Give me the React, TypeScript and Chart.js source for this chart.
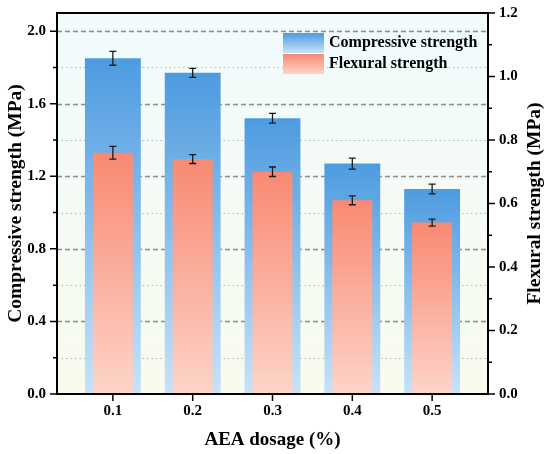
import { useEffect, useRef } from "react"
import Chart from "chart.js/auto"

const dosages = [0.1, 0.2, 0.3, 0.4, 0.5]
const compressive = [1.85, 1.77, 1.52, 1.27, 1.13]
const compressiveErr = [0.038, 0.025, 0.027, 0.03, 0.027]
const flexural = [0.76, 0.74, 0.7, 0.61, 0.54]
const flexuralErr = [0.02, 0.014, 0.015, 0.014, 0.011]

const leftTicks = [0, 0.2, 0.4, 0.6, 0.8, 1.0, 1.2, 1.4, 1.6, 1.8, 2.0]
const leftMajor = [0, 0.4, 0.8, 1.2, 1.6, 2.0]
const rightTicks = [0, 0.1, 0.2, 0.3, 0.4, 0.5, 0.6, 0.7, 0.8, 0.9, 1.0, 1.1, 1.2]
const rightMajor = [0, 0.2, 0.4, 0.6, 0.8, 1.0, 1.2]

const FONT = "'Liberation Serif', 'Times New Roman', serif"
const isIn = (list: number[], v: number) => list.some((m) => Math.abs(m - v) < 1e-6)

const blueTop = "#4d9be0"
const blueBottom = "#c8e3f7"
const redTop = "#f98972"
const redBottom = "#fdd4c9"

function barGradient(ctx: any, values: number[], axis: string, top: string, bottom: string) {
  const chart = ctx.chart
  const scale = chart.scales[axis]
  if (!chart.chartArea || !scale || ctx.type !== "data") return top
  const y0 = scale.getPixelForValue(values[ctx.dataIndex])
  const y1 = scale.getPixelForValue(0)
  const g = chart.ctx.createLinearGradient(0, y0, 0, y1)
  g.addColorStop(0, top)
  g.addColorStop(1, bottom)
  return g
}

const decorPlugin = {
  id: "decor",
  beforeDraw(chart: any) {
    const { ctx, chartArea: a } = chart
    const g = ctx.createLinearGradient(0, a.top, 0, a.bottom)
    g.addColorStop(0, "#f2fbfd")
    g.addColorStop(1, "#f8fbee")
    ctx.save()
    ctx.fillStyle = g
    ctx.fillRect(a.left, a.top, a.right - a.left, a.bottom - a.top)
    ctx.restore()
  },
  beforeDatasetsDraw(chart: any) {
    const { ctx, chartArea: a } = chart
    const y = chart.scales.y
    ctx.save()
    leftTicks.forEach((v) => {
      if (v === 0) return
      const py = Math.round(y.getPixelForValue(v)) + 0.5
      const major = isIn(leftMajor, v)
      ctx.beginPath()
      ctx.strokeStyle = major ? "#8c8c8c" : "#b4b4b4"
      ctx.lineWidth = major ? 1.5 : 1
      ctx.setLineDash(major ? [5, 3] : [1.5, 3])
      ctx.moveTo(a.left, py)
      ctx.lineTo(a.right, py)
      ctx.stroke()
    })
    ctx.restore()
  },
  afterDatasetsDraw(chart: any) {
    const { ctx } = chart
    const sets = [
      { idx: 0, vals: compressive, errs: compressiveErr, axis: "y" },
      { idx: 1, vals: flexural, errs: flexuralErr, axis: "y1" },
    ]
    ctx.save()
    ctx.strokeStyle = "#1a1a1a"
    ctx.lineWidth = 1.3
    sets.forEach((s) => {
      const meta = chart.getDatasetMeta(s.idx)
      const scale = chart.scales[s.axis]
      meta.data.forEach((bar: any, i: number) => {
        const x = bar.x
        const yHi = scale.getPixelForValue(s.vals[i] + s.errs[i])
        const yLo = scale.getPixelForValue(s.vals[i] - s.errs[i])
        ctx.beginPath()
        ctx.moveTo(x, yHi)
        ctx.lineTo(x, yLo)
        ctx.moveTo(x - 3.5, yHi)
        ctx.lineTo(x + 3.5, yHi)
        ctx.moveTo(x - 3.5, yLo)
        ctx.lineTo(x + 3.5, yLo)
        ctx.stroke()
      })
    })
    ctx.restore()
  },
  afterDraw(chart: any) {
    const { ctx, chartArea: a } = chart
    const { x, y, y1 } = chart.scales
    ctx.save()
    ctx.strokeStyle = "#000"
    ctx.lineWidth = 2
    ctx.strokeRect(a.left, a.top, a.right - a.left, a.bottom - a.top)

    ctx.lineWidth = 1.5
    ctx.beginPath()
    dosages.forEach((v) => {
      const px = x.getPixelForValue(v)
      ctx.moveTo(px, a.bottom)
      ctx.lineTo(px, a.bottom + 7)
    })
    leftTicks.forEach((v) => {
      const py = y.getPixelForValue(v)
      ctx.moveTo(a.left, py)
      ctx.lineTo(a.left - (isIn(leftMajor, v) ? 7 : 4), py)
    })
    rightTicks.forEach((v) => {
      const py = y1.getPixelForValue(v)
      ctx.moveTo(a.right, py)
      ctx.lineTo(a.right + (isIn(rightMajor, v) ? 7 : 4), py)
    })
    ctx.stroke()

    // right axis title, reading bottom to top
    ctx.save()
    ctx.translate(535, (a.top + a.bottom) / 2)
    ctx.rotate(-Math.PI / 2)
    ctx.fillStyle = "#000"
    ctx.font = `bold 19.5px ${FONT}`
    ctx.textAlign = "center"
    ctx.textBaseline = "middle"
    ctx.fillText("Flexural strength (MPa)", 0, 0)
    ctx.restore()

    // legend
    const lx = a.left + 226
    const rows = [
      { label: "Compressive strength", top: blueTop, bottom: blueBottom, y: a.top + 20 },
      { label: "Flexural strength", top: redTop, bottom: redBottom, y: a.top + 41 },
    ]
    rows.forEach((r) => {
      const g = ctx.createLinearGradient(0, r.y, 0, r.y + 20)
      g.addColorStop(0, r.top)
      g.addColorStop(1, r.bottom)
      ctx.fillStyle = g
      ctx.fillRect(lx, r.y, 41, 20)
      ctx.fillStyle = "#000"
      ctx.font = `bold 16px ${FONT}`
      ctx.textAlign = "left"
      ctx.textBaseline = "middle"
      ctx.fillText(r.label, lx + 46, r.y + 10)
    })
    ctx.restore()
  },
}

export default function App() {
  const chartRef = useRef<HTMLCanvasElement | null>(null)
  const chartInstance = useRef<Chart | null>(null)

  useEffect(() => {
    if (!chartRef.current) return
    if (chartInstance.current) chartInstance.current.destroy()
    const ctx = chartRef.current.getContext("2d")
    if (!ctx) return

    const tickFont = { family: FONT, size: 15, weight: "bold" as const }
    const titleFont = { family: FONT, size: 19.5, weight: "bold" as const }
    const hiddenGrid = {
      drawOnChartArea: false,
      drawTicks: true,
      tickLength: 7,
      tickColor: "rgba(0,0,0,0)",
      offset: false,
    }

    chartInstance.current = new Chart(ctx, {
      type: "bar",
      data: {
        datasets: [
          {
            label: "Compressive strength",
            data: dosages.map((d, i) => ({ x: d, y: compressive[i] })),
            yAxisID: "y",
            backgroundColor: (c: any) => barGradient(c, compressive, "y", blueTop, blueBottom),
            barPercentage: 0.7,
            categoryPercentage: 1,
            grouped: false,
            order: 2,
          },
          {
            label: "Flexural strength",
            data: dosages.map((d, i) => ({ x: d, y: flexural[i] })),
            yAxisID: "y1",
            backgroundColor: (c: any) => barGradient(c, flexural, "y1", redTop, redBottom),
            barPercentage: 0.5,
            categoryPercentage: 1,
            grouped: false,
            order: 1,
          },
        ],
      },
      options: {
        animation: false,
        responsive: true,
        maintainAspectRatio: false,
        layout: { padding: { top: 11, left: 0, right: 0, bottom: 0 } },
        plugins: {
          legend: { display: false },
          tooltip: { enabled: false },
        },
        scales: {
          x: {
            type: "linear",
            min: 0.03,
            max: 0.57,
            offset: false,
            afterBuildTicks: (s: any) => {
              s.ticks = dosages.map((v) => ({ value: v }))
            },
            afterFit: (s: any) => {
              s.height = 60
            },
            ticks: {
              callback: (v: any) => Number(v).toFixed(1),
              font: tickFont,
              color: "#000",
              padding: 1,
              autoSkip: false,
              maxRotation: 0,
            },
            grid: hiddenGrid,
            border: { display: false },
            title: {
              display: true,
              text: "AEA dosage (%)",
              font: { ...titleFont, size: 19 },
              color: "#000",
              padding: { top: 0, bottom: 3 },
            },
          },
          y: {
            position: "left",
            min: 0,
            max: 2.1,
            afterBuildTicks: (s: any) => {
              s.ticks = leftTicks.map((v) => ({ value: v }))
            },
            afterFit: (s: any) => {
              s.width = 57
            },
            ticks: {
              callback: (v: any) => (isIn(leftMajor, Number(v)) ? Number(v).toFixed(1) : ""),
              font: tickFont,
              color: "#000",
              padding: 4,
              autoSkip: false,
            },
            grid: hiddenGrid,
            border: { display: false },
            title: {
              display: true,
              text: "Compressive strength (MPa)",
              font: titleFont,
              color: "#000",
              padding: { top: 4, bottom: 0 },
            },
          },
          y1: {
            position: "right",
            min: 0,
            max: 1.2,
            afterBuildTicks: (s: any) => {
              s.ticks = rightTicks.map((v) => ({ value: v }))
            },
            afterFit: (s: any) => {
              s.width = 62
            },
            ticks: {
              callback: (v: any) => (isIn(rightMajor, Number(v)) ? Number(v).toFixed(1) : ""),
              font: tickFont,
              color: "#000",
              padding: 4,
              autoSkip: false,
            },
            grid: hiddenGrid,
            border: { display: false },
          },
        },
      },
      plugins: [decorPlugin],
    })

    return () => {
      if (chartInstance.current) {
        chartInstance.current.destroy()
        chartInstance.current = null
      }
    }
  }, [])

  return (
    <div style={{ position: "fixed", left: 0, top: 0, width: 550, height: 454, background: "#fff" }}>
      <canvas ref={chartRef}></canvas>
    </div>
  )
}
